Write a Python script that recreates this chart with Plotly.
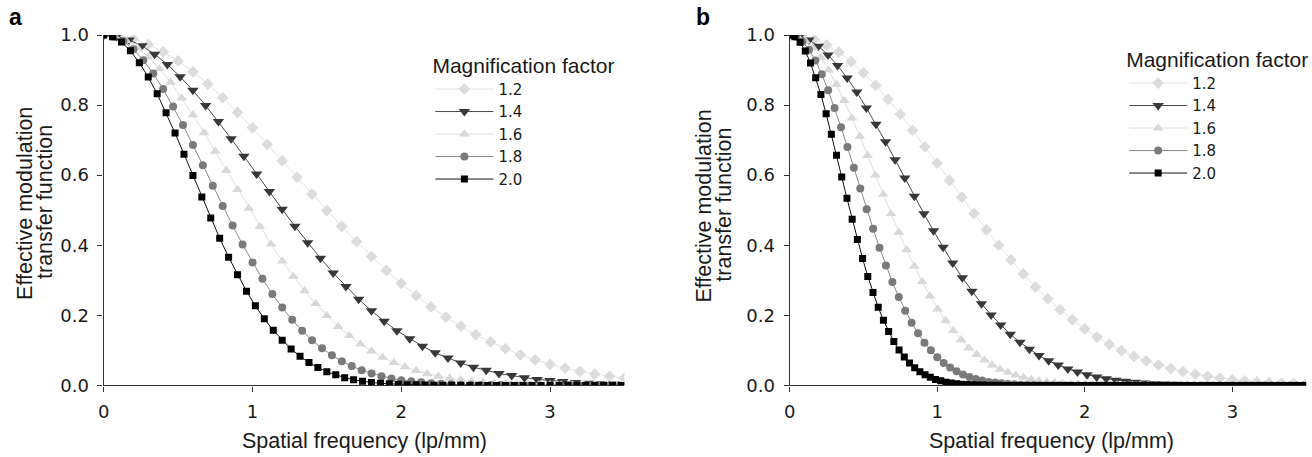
import plotly.graph_objects as go

# ---------------- data ----------------
mag_labels = ["1.2", "1.4", "1.6", "1.8", "2.0"]

# x sampling step (lp/mm) of each series
step_a = [0.1, 0.0857, 0.075, 0.0667, 0.06]
step_b = [0.0833, 0.065, 0.0528, 0.0435, 0.0353]

# panel a : effective MTF
a_12 = [1.000, .997, .988, .973, .952, .926, .895, .860, .821, .779, .735, .688, .641, .594, .546, .499,
        .454, .410, .368, .328, .291, .256, .224, .195, .169, .145, .124, .105, .087, .073, .060, .049,
        .040, .032, .026, .021]
a_14 = [1.000, .996, .986, .969, .945, .916, .881, .842, .799, .753, .704, .654, .603, .553, .503, .454,
        .407, .363, .321, .282, .246, .213, .183, .156, .133, .112, .093, .078, .064, .052, .043, .034,
        .028, .022, .017, .014, .011, .008, .006, .005, .004]
a_16 = [1.000, .996, .984, .964, .937, .904, .865, .820, .772, .721, .668, .613, .559, .505, .453, .403,
        .355, .311, .270, .233, .199, .168, .142, .118, .098, .080, .065, .053, .042, .033, .026, .021,
        .016, .012, .009, .007, .005, .004, .003, .002, .002, .001, .001, .001, 0, 0, 0]
a_18 = [1.000, .995, .982, .959, .928, .890, .846, .796, .743, .686, .628, .570, .512, .456, .402, .351,
        .304, .261, .222, .187, .156, .129, .106, .086, .069, .055, .043, .034, .026, .020, .015, .012,
        .009, .006, .005, .003, .002, .002, .001, .001, .001,
        0, 0, 0, 0, 0, 0, 0, 0, 0, 0, 0, 0]
a_20 = [1.000, .995, .980, .955, .921, .880, .832, .778, .720, .660, .599, .538, .478, .420, .366, .316,
        .269, .227, .190, .157, .129, .104, .083, .065, .051, .039, .030, .022, .016, .012, .0085, .006,
        .0045, .003, .002, .0015, .001, .0007, .0005, .0003,
        0, 0, 0, 0, 0, 0, 0, 0, 0, 0, 0, 0, 0, 0, 0, 0, 0, 0, 0]

# panel b : effective MTF
b_12 = [1.000, .997, .987, .972, .951, .924, .892, .856, .816, .774, .728, .681, .634, .585, .537, .490,
        .444, .400, .358, .318, .281, .247, .216, .187, .161, .138, .117, .099, .083, .070, .058, .048,
        .039, .032, .026, .021, .016, .013, .010, .008, .006, .005, .004]
b_14 = [1.000, .996, .986, .968, .943, .913, .877, .837, .792, .745, .695, .644, .592, .540, .490, .441,
        .394, .349, .307, .269, .233, .201, .172, .146, .123, .103, .085, .070, .058, .047, .038, .030,
        .024, .019, .015, .012, .009, .007, .005, .004, .003, .002, .002, .001, .001, .001,
        0, 0, 0, 0, 0, 0, 0, 0]
b_16 = [1.000, .996, .983, .963, .935, .900, .859, .813, .763, .711, .656, .600, .545, .490, .437, .387,
        .340, .296, .255, .218, .185, .156, .130, .107, .088, .072, .058, .046, .037, .029, .023, .017,
        .013, .010, .008, .006, .004, .003, .002, .002, .001, .001, .001,
        0, 0, 0, 0, 0, 0, 0, 0, 0, 0, 0, 0, 0, 0, 0, 0, 0, 0, 0, 0, 0, 0, 0, 0]
b_18 = [1.000, .995, .981, .958, .927, .888, .842, .792, .737, .680, .621, .562, .503, .447, .393, .342,
        .295, .252, .213, .179, .149, .122, .100, .080, .064, .051, .040, .031, .024, .018, .014, .010,
        .008, .006, .004, .003, .002, .0015, .001, .0007, .0005, .0003, .0002,
        0, 0, 0, 0, 0, 0, 0, 0, 0, 0, 0, 0, 0, 0, 0, 0, 0, 0, 0, 0,
        0, 0, 0, 0, 0, 0, 0, 0, 0, 0, 0, 0, 0, 0, 0, 0, 0, 0]
b_20 = [1.000, .995, .979, .954, .920, .878, .830, .775, .717, .657, .595, .534, .474, .416, .362, .311,
        .265, .223, .186, .154, .125, .101, .081, .064, .050, .039, .030, .023, .017, .013, .009, .007,
        .005, .0035, .0025, .0017, .0012, .0008, .0006, .0004, .0002,
        0, 0, 0, 0, 0, 0, 0, 0, 0, 0, 0, 0, 0, 0, 0, 0, 0, 0, 0, 0,
        0, 0, 0, 0, 0, 0, 0, 0, 0, 0, 0, 0, 0, 0, 0, 0, 0, 0, 0, 0,
        0, 0, 0, 0, 0, 0, 0, 0, 0, 0, 0, 0, 0, 0, 0, 0, 0, 0, 0]

x_ticks = [0, 1, 2, 3]
y_ticks = [0.0, 0.2, 0.4, 0.6, 0.8, 1.0]

panel_a = [a_12, a_14, a_16, a_18, a_20]
panel_b = [b_12, b_14, b_16, b_18, b_20]

# ---------------- styles ----------------
symbols = ["diamond", "triangle-down", "triangle-up", "circle", "square"]
msizes = [9, 10, 9.5, 8, 7]
mcolors = ["#dcdcdc", "#383838", "#d8d8d8", "#7a7a7a", "#000000"]
lcolors = ["#e2e2e2", "#4a4a4a", "#dedede", "#8a8a8a", "#111111"]
FONT = "DejaVu Sans"
TFONT = "Liberation Sans, Arial, sans-serif"

# layout positions below are given in the pixels of the final picture;
# the page keeps an 8 px body margin and the capture is slightly scaled
SX, SY, DY, BODY_M = 0.99, 0.957, 2.3, 8
W, H = 1312, 470

fig = go.Figure()

def add_panel(series, steps, xa, ya, legend):
    for i, ys in enumerate(series):
        xs = [k * steps[i] for k in range(len(ys))]
        fig.add_trace(go.Scatter(
            x=xs, y=ys, mode="lines+markers", name=mag_labels[i],
            xaxis=xa, yaxis=ya, legend=legend,
            line=dict(color=lcolors[i], width=1),
            marker=dict(symbol=symbols[i], size=msizes[i], color=mcolors[i],
                        line=dict(width=0)),
        ))

add_panel(panel_a, step_a, "x", "y", "legend")
add_panel(panel_b, step_b, "x2", "y2", "legend2")

def px(x):
    return (x / SX - BODY_M) / W

def py(y):
    return 1 - ((y - DY) / SY - BODY_M) / H

ax_common = dict(
    showline=True, linecolor="#333333", linewidth=1.3,
    ticks="outside", ticklen=5, tickwidth=1.3, tickcolor="#333333",
    showgrid=False, zeroline=False,
    tickfont=dict(family=FONT, size=18, color="#1a1a1a"),
)

leg_common = dict(
    xanchor="left", yanchor="top", bgcolor="rgba(0,0,0,0)", itemwidth=58,
    font=dict(family=FONT, size=15, color="#1a1a1a"),
    title=dict(text="Magnification factor",
               font=dict(family=TFONT, size=21, color="#1a1a1a")),
)

fig.update_layout(
    width=W, height=H, margin=dict(l=0, r=0, t=0, b=0),
    paper_bgcolor="white", plot_bgcolor="white",
    font=dict(family=FONT, color="#1a1a1a"),
    xaxis=dict(domain=[px(105), px(623)], range=[0, 3.5], tickvals=x_ticks,
               anchor="y", ticklabelstandoff=5, **ax_common),
    yaxis=dict(domain=[py(385), py(34)], range=[0, 1.0], tickvals=y_ticks,
               tickformat=".1f", anchor="x", ticklabelstandoff=5, **ax_common),
    xaxis2=dict(domain=[px(787.3), px(1301)], range=[0, 3.5], tickvals=x_ticks,
                anchor="y2", ticklabelstandoff=5, **ax_common),
    yaxis2=dict(domain=[py(385), py(34)], range=[0, 1.0], tickvals=y_ticks,
                tickformat=".1f", anchor="x2", ticklabelstandoff=5, **ax_common),
    legend=dict(x=px(430), y=py(44.5), **leg_common),
    legend2=dict(x=px(1120), y=py(38.5), **leg_common),
    showlegend=True,
)

title_font = dict(family=TFONT, size=21.5, color="#1a1a1a")
annots = [
    dict(text="<b>a</b>", x=px(9), y=py(16), xanchor="left", yanchor="middle",
         font=dict(family=TFONT, size=23, color="#000000")),
    dict(text="<b>b</b>", x=px(692), y=py(16), xanchor="left", yanchor="middle",
         font=dict(family=TFONT, size=23, color="#000000")),
    dict(text="Spatial frequency (lp/mm)", x=px(364), y=py(441), xanchor="center",
         yanchor="middle", font=title_font),
    dict(text="Spatial frequency (lp/mm)", x=px(1048), y=py(441), xanchor="center",
         yanchor="middle", font=title_font),
    dict(text="Effective modulation", x=px(27), y=py(203), textangle=-90,
         xanchor="center", yanchor="middle", font=title_font),
    dict(text="transfer function", x=px(46), y=py(201), textangle=-90,
         xanchor="center", yanchor="middle", font=title_font),
    dict(text="Effective modulation", x=px(702), y=py(205), textangle=-90,
         xanchor="center", yanchor="middle", font=title_font),
    dict(text="transfer function", x=px(722), y=py(204), textangle=-90,
         xanchor="center", yanchor="middle", font=title_font),
]
for a in annots:
    a.update(xref="paper", yref="paper", showarrow=False)
fig.update_layout(annotations=annots)

fig.write_html("out.html")
